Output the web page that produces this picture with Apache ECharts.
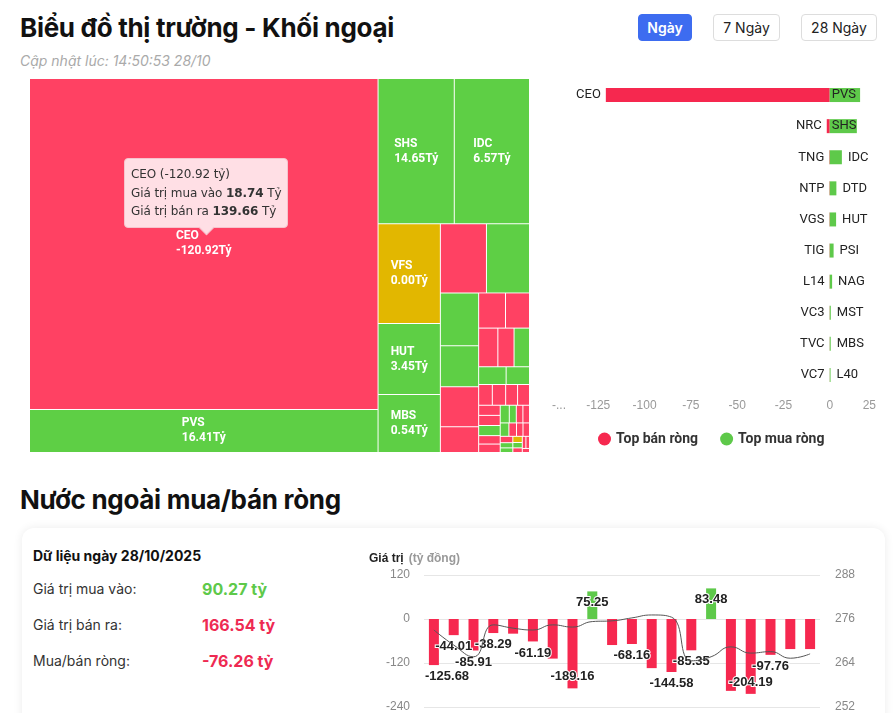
<!DOCTYPE html>
<html lang="vi">
<head>
<meta charset="utf-8">
<title>Biểu đồ thị trường - Khối ngoại</title>
<script src="https://cdn.jsdelivr.net/npm/echarts@6/dist/echarts.min.js"></script>
<style>
  body { margin:0; width:895px; height:713px; overflow:hidden; background:#fff; position:relative;
         font-family: Inter, "Noto Sans", sans-serif; color:#111; }
  .h1 { position:absolute; left:20px; font-size:26px; line-height:30px; font-weight:700; letter-spacing:-0.3px; white-space:nowrap; }
  .upd { position:absolute; left:20px; top:52px; font-size:14px; line-height:18px; font-style:italic; color:#aaa; }
  .btn { position:absolute; top:14px; height:27px; line-height:25px; border:1px solid #ddd; border-radius:4px;
         font-size:14px; text-align:center; box-sizing:border-box; background:#fff; color:#222; }
  .btn.on { background:#3d6cf0; border-color:#3d6cf0; color:#fff; font-weight:600; }
  #top { position:absolute; left:0; top:70px; width:540px; height:400px; }
  #bars { position:absolute; left:540px; top:70px; width:340px; height:400px; }
  .card { position:absolute; left:22px; top:528px; width:863px; height:230px; border-radius:12px;
          background:#fff; box-shadow:0 0 10px rgba(0,0,0,0.08); }
  .dt { position:absolute; left:33px; top:546px; font-size:14px; line-height:20px; font-weight:700; color:#111; }
  .lab { position:absolute; left:33px; font-size:14px; line-height:20px; color:#333; }
  .val { position:absolute; left:202px; font-size:16px; line-height:20px; font-weight:700; }
  #net { position:absolute; left:355px; top:540px; width:540px; height:173px; }
</style>
</head>
<body>
<div class="h1" style="top:13px">Biểu đồ thị trường - Khối ngoại</div>
<div class="upd">Cập nhật lúc: 14:50:53 28/10</div>
<div class="btn on" style="left:638px;width:54px">Ngày</div>
<div class="btn" style="left:713px;width:67px">7 Ngày</div>
<div class="btn" style="left:801px;width:76px">28 Ngày</div>
<div id="top"></div>
<div id="bars"></div>
<div class="h1" style="top:485px">Nước ngoài mua/bán ròng</div>
<div class="card"></div>
<div class="dt">Dữ liệu ngày 28/10/2025</div>
<div id="stats"></div>
<div id="net"></div>

<script>
// ---- treemap: mã có nhãn (giá trị ròng và tổng giá trị giao dịch, tỷ)
var tmNames = ['CEO', 'PVS', 'SHS', 'IDC', 'VFS', 'HUT', 'MBS'];
var tmNet = [-120.92, 16.41, 14.65, 6.57, 0.00, 3.45, 0.54];
var tmTotal = [158.40, 20.64, 15.20, 15.00, 8.55, 6.07, 4.96];
var tmGroups = [[0, 1], 2, 3, [4, 5, 6]];   // nhóm ngành của các mã có nhãn
// các ô nhỏ không có nhãn: tổng giá trị (tỷ) và chiều (-1 bán ròng, 1 mua ròng, 0 không đổi)
var smTotal = [4.38, 4.09, 2.78, 2.15, 2.10, 1.36, 1.30, 1.16, 1.02, 0.86, 0.82, 0.67, 0.57,
               0.39, 0.38, 0.34, 0.34, 0.30, 0.30, 0.30, 0.25, 0.25, 0.22, 0.17, 0.16, 0.16, 0.16,
               0.14, 0.12, 0.12, 0.11, 0.09, 0.08, 0.08, 0.07, 0.06, 0.06, 0.06, 0.04];
var smSide = [-1, 1, 1, 1, -1, -1, -1, -1, -1, -1, 1, 1, 1,
              -1, -1, -1, -1, -1, -1, 1, -1, -1, 1, 1, -1, -1, 1,
              -1, -1, -1, -1, 1, 1, 0, 1, -1, -1, -1, -1];
var smRest = [];
for (var k = 13; k < smTotal.length; k++) smRest.push(k);
var smGroups = [0, 1, [[2, 3, 4, 5], [6, 7, [[8, 9, 10, 11, 12], smRest]]]];

// ---- top bán ròng / mua ròng
var sellNames = ['CEO', 'NRC', 'TNG', 'NTP', 'VGS', 'TIG', 'L14', 'VC3', 'TVC', 'VC7'];
var sellVals = [-120.92, -1.6, -0.25, -0.2, -0.18, -0.15, -0.12, -0.1, -0.08, -0.06];
var buyNames = ['PVS', 'SHS', 'IDC', 'DTD', 'HUT', 'PSI', 'NAG', 'MST', 'MBS', 'L40'];
var buyVals = [16.41, 14.65, 6.57, 3.6, 3.45, 2.1, 1.3, 0.58, 0.54, 0.45];
var xTicks = [-150, 25, 25]; // min, max, interval

// ---- thống kê ngày
var statLabels = ['Giá trị mua vào:', 'Giá trị bán ra:', 'Mua/bán ròng:'];
var statVals = [90.27, 166.54, -76.26];

// ---- mua/bán ròng theo phiên (tỷ đồng) và chỉ số (trục phải)
var netVals = [-125.68, -44.01, -85.91, -38.29, -40, -61.19, -108, -189.16, 75.25, -71,
               -68.16, -134, -144.58, -85.35, 83.48, -196, -204.19, -97.76, -82, -82];
var indexVals = [273.0, 268.9, 265.7, 274.4, 273.5, 273.0, 274.4, 273.8, 275.3, 275.5,
                 276.3, 277.1, 276.5, 264.6, 265.7, 268.4, 266.7, 267.1, 265.3, 266.5];
var leftTicks = [-240, 120, 120];
var rightTicks = [252, 288, 12];

var RED = '#ff4163', GREEN = '#5ecf45', YELLOW = '#e2b700';
var BAR_RED = '#f6284f', BAR_GREEN = '#5ec94a';

// stats
var statColors = [BAR_GREEN, '#ee2a52', '#ee2a52'];
var stats = document.getElementById('stats');
statLabels.forEach(function (s, i) {
  var y = 579 + i * 36;
  stats.insertAdjacentHTML('beforeend',
    '<div class="lab" style="top:' + y + 'px">' + s + '</div>' +
    '<div class="val" style="top:' + y + 'px;color:' + statColors[i] + '">' + statVals[i].toFixed(2) + ' tỷ</div>');
});

// ---- treemap
function sideColor(v) { return v < 0 ? RED : (v > 0 ? GREEN : YELLOW); }
function bigNode(n) {
  if (typeof n !== 'number') return { name: '', children: n.map(bigNode) };
  return { name: tmNames[n], value: tmTotal[n], net: tmNet[n], itemStyle: { color: sideColor(tmNet[n]) } };
}
function smallNode(n) {
  if (typeof n !== 'number') return { name: '', children: n.map(smallNode) };
  return { name: '', value: smTotal[n], net: null, itemStyle: { color: sideColor(smSide[n]) }, label: { show: false } };
}
var tmData = tmGroups.map(bigNode).concat([smallNode(smGroups)]);

var measureCtx = document.createElement('canvas').getContext('2d');
measureCtx.font = 'bold 12px Roboto';

var topChart = echarts.init(document.getElementById('top'));
topChart.setOption({
  animation: false,
  tooltip: {
    trigger: 'item',
    position: [124, 88],
    alwaysShowContent: true,
    transitionDuration: 0,
    backgroundColor: '#ffdfe5',
    borderColor: '#f6c3cd',
    borderWidth: 1,
    padding: [6, 6],
    extraCssText: 'box-shadow:none;border-radius:4px;',
    textStyle: { color: '#333', fontSize: 12, fontFamily: 'DejaVu Sans', lineHeight: 18 },
    formatter: function (p) {
      if (!p.data || p.data.net == null) return '';
      var buy = (p.value + p.data.net) / 2, sell = (p.value - p.data.net) / 2;
      return '<div style="line-height:18.5px;letter-spacing:-0.1px">' + p.name + ' (' + p.data.net.toFixed(2) + ' tỷ)<br/>' +
        'Giá trị mua vào <b>' + buy.toFixed(2) + '</b> Tỷ<br/>' +
        'Giá trị bán ra <b>' + sell.toFixed(2) + '</b> Tỷ</div>' +
        '<div style="position:absolute;left:50%;bottom:-6px;margin-left:-5px;width:10px;height:10px;' +
        'background:#ffdfe5;border-right:1px solid #f6c3cd;border-bottom:1px solid #f6c3cd;transform:rotate(45deg)"></div>';
    }
  },
  series: [{
    type: 'treemap',
    left: 30, top: 9, width: 499, height: 373,
    sort: null,
    squareRatio: 2,
    roam: false,
    nodeClick: false,
    breadcrumb: { show: false },
    itemStyle: { borderWidth: 0, gapWidth: 1, borderColor: '#fff' },
    upperLabel: { show: false },
    emphasis: { disabled: true },
    label: {
      show: true,
      formatter: function (p) {
        if (!p.data || p.data.net == null) return '';
        return '{n|' + p.name + '}\n{n|' + p.data.net.toFixed(2) + 'Tỷ}';
      },
      rich: { n: { color: '#fff', fontSize: 12, fontWeight: 'bold', fontFamily: 'Roboto', lineHeight: 15, align: 'left' } }
    },
    // centre the two-line block inside its cell, lines left aligned
    labelLayout: function (p) {
      if (!p.text) return {};
      var lines = String(p.text).replace(/\{n\|/g, '').replace(/\}/g, '').split('\n');
      var w = 0;
      lines.forEach(function (l) { w = Math.max(w, measureCtx.measureText(l).width); });
      return { dx: (p.rect.width - w) / 2 - 5, dy: (p.rect.height - 30) / 2 - 5 };
    },
    data: tmData
  }]
});

function hoverCEO() {
  var root = topChart.getZr().painter.getViewportRoot();
  var r = root.getBoundingClientRect();
  ['mousemove', 'pointermove'].forEach(function (t) {
    root.dispatchEvent(new MouseEvent(t, { clientX: r.left + 100, clientY: r.top + 100, bubbles: true }));
  });
}
hoverCEO();
setTimeout(hoverCEO, 100);

// ---- top bar chart
var barChart = echarts.init(document.getElementById('bars'));
barChart.setOption({
  animation: false,
  grid: { left: 12, top: 9.5, width: 324, height: 311 },
  legend: {
    left: 53, top: 357, itemGap: 22, icon: 'circle', itemWidth: 13, itemHeight: 13,
    textStyle: { fontSize: 14, color: '#333', fontFamily: 'Roboto', fontWeight: 'bold' }
  },
  xAxis: {
    type: 'value', min: xTicks[0], max: xTicks[1], interval: xTicks[2],
    splitLine: { show: false }, axisLine: { show: false }, axisTick: { show: false },
    axisLabel: {
      color: '#999', fontSize: 12, margin: 9, alignMinLabel: 'left', alignMaxLabel: 'right',
      formatter: function (v) { return v === xTicks[0] ? '-...' : String(v); }
    }
  },
  yAxis: { type: 'category', inverse: true, data: sellNames, show: false },
  series: [{
    name: 'Top bán ròng', type: 'bar', stack: 'net', barWidth: 14,
    itemStyle: { color: BAR_RED },
    label: {
      show: true, position: 'left', distance: 5, color: '#222', fontSize: 13, fontFamily: 'Roboto',
      formatter: function (p) { return sellNames[p.dataIndex]; }
    },
    data: sellVals
  }, {
    name: 'Top mua ròng', type: 'bar', stack: 'net', barWidth: 14,
    itemStyle: { color: BAR_GREEN },
    label: {
      show: true, position: 'right', distance: 6, color: '#222', fontSize: 13, fontFamily: 'Roboto',
      formatter: function (p) { return buyNames[p.dataIndex]; }
    },
    data: buyVals.map(function (v) {
      return v > 10 ? { value: v, label: { position: 'insideLeft', distance: 2 } } : v;
    })
  }]
});

// ---- net chart
var hiddenLabels = [4, 6, 9, 11, 15, 18, 19];
var NET_GRID_LEFT = 69;
var netChart = echarts.init(document.getElementById('net'));
netChart.setOption({
  animation: false,
  title: {
    text: '{a|Giá trị} {b|(tỷ đồng)}', left: 9, top: 5,
    textStyle: { rich: { a: { fontSize: 12, fontWeight: 'bold', color: '#222' }, b: { fontSize: 12, color: '#999' } } }
  },
  grid: { left: NET_GRID_LEFT, right: 75, top: 35, bottom: 5 },
  xAxis: { type: 'category', data: netVals.map(function (v, i) { return i; }), show: false },
  yAxis: [{
    type: 'value', min: leftTicks[0], max: leftTicks[1], interval: leftTicks[2],
    axisLabel: { color: '#888', fontSize: 12, margin: 14 },
    splitLine: { lineStyle: { color: '#e6e6e6' } }
  }, {
    type: 'value', min: rightTicks[0], max: rightTicks[1], interval: rightTicks[2],
    axisLabel: { color: '#888', fontSize: 12, margin: 15 },
    splitLine: { show: false }
  }],
  series: [{
    type: 'bar', barWidth: 10,
    itemStyle: { color: function (p) { return p.value < 0 ? BAR_RED : BAR_GREEN; } },
    label: {
      show: true, color: '#222', fontSize: 13, fontWeight: 'bold',
      textBorderColor: '#fff', textBorderWidth: 2,
      formatter: function (p) { return p.value.toFixed(2); }
    },
    // keep labels inside the plot area
    labelLayout: function (p) {
      return p.labelRect.x < NET_GRID_LEFT ? { dx: NET_GRID_LEFT - p.labelRect.x } : {};
    },
    data: netVals.map(function (v, i) {
      var pos = v > 0 ? 'insideTop' : (v < -180 ? 'insideBottom' : 'bottom');
      return { value: v, label: { position: pos, show: hiddenLabels.indexOf(i) < 0 } };
    })
  }, {
    type: 'line', yAxisIndex: 1, smooth: true, showSymbol: false,
    lineStyle: { color: '#555', width: 1 },
    data: indexVals
  }]
});
</script>
</body>
</html>
